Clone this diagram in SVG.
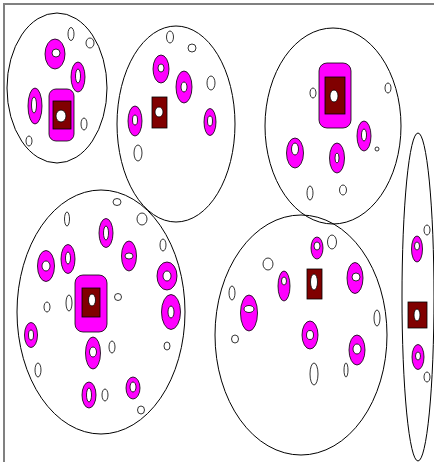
<svg xmlns="http://www.w3.org/2000/svg" width="434" height="462" viewBox="0 0 434 462">
<style>
.cell{fill:none;stroke:#000;stroke-width:1}
.ring{fill:#ff00ff;stroke:#000;stroke-width:0.8}
.hole{fill:#fff;stroke:#000;stroke-width:0.8}
.ov{fill:#fff;stroke:#000;stroke-width:0.8}
.pad{fill:#ff00ff;stroke:#000;stroke-width:0.8}
.core{fill:#800000;stroke:#000;stroke-width:0.8}
.frame{stroke:#808080;stroke-width:2;fill:none}
</style>
<rect width="434" height="462" fill="#fff"/>
<path class="frame" d="M4,462 V4 H434"/>

<g id="cell1">
<ellipse class="cell" cx="57" cy="88" rx="50" ry="75"/>
<ellipse class="ov" cx="71" cy="34" rx="3" ry="6.5"/>
<ellipse class="ov" cx="90" cy="43" rx="4" ry="5"/>
<ellipse class="ov" cx="84" cy="124" rx="3" ry="6"/>
<ellipse class="ov" cx="29" cy="141" rx="3" ry="5"/>
<ellipse class="ring" cx="55" cy="54" rx="10" ry="15"/><ellipse class="hole" cx="56" cy="53" rx="4" ry="4"/>
<ellipse class="ring" cx="78" cy="77" rx="7" ry="15"/><ellipse class="hole" cx="78" cy="76" rx="2.5" ry="7"/>
<ellipse class="ring" cx="35" cy="106" rx="7" ry="18"/><ellipse class="hole" cx="34" cy="105" rx="2.5" ry="8"/>
<rect class="pad" x="49" y="89" width="25" height="52" rx="7"/>
<rect class="core" x="53" y="101" width="18" height="28"/>
<ellipse class="hole" cx="61" cy="116" rx="5" ry="6"/>
</g>

<g id="cell2">
<ellipse class="cell" cx="176" cy="124" rx="59" ry="98"/>
<ellipse class="ov" cx="170" cy="37" rx="3.5" ry="6"/>
<ellipse class="ov" cx="192" cy="48" rx="4" ry="4"/>
<ellipse class="ov" cx="211" cy="83" rx="4" ry="7"/>
<ellipse class="ov" cx="138" cy="153" rx="4" ry="8"/>
<ellipse class="ring" cx="161" cy="69" rx="8" ry="14"/><ellipse class="hole" cx="161" cy="68" rx="3" ry="4"/>
<ellipse class="ring" cx="184" cy="87" rx="8" ry="16"/><ellipse class="hole" cx="184" cy="87" rx="3" ry="5"/>
<ellipse class="ring" cx="135" cy="121" rx="7" ry="15"/><ellipse class="hole" cx="135" cy="120" rx="2.5" ry="5"/>
<ellipse class="ring" cx="210" cy="122" rx="6" ry="13.5"/><ellipse class="hole" cx="210" cy="121" rx="2.5" ry="5"/>
<rect class="core" x="152" y="97" width="15" height="31"/>
<ellipse class="hole" cx="159" cy="112" rx="4" ry="5"/>
</g>

<g id="cell3">
<ellipse class="cell" cx="333" cy="126" rx="68" ry="98"/>
<ellipse class="ov" cx="313" cy="93" rx="3" ry="5"/>
<ellipse class="ov" cx="388" cy="88" rx="3" ry="5"/>
<ellipse class="ov" cx="377" cy="149" rx="2" ry="2"/>
<ellipse class="ov" cx="310" cy="193" rx="3" ry="7"/>
<ellipse class="ov" cx="343" cy="190" rx="3.5" ry="5"/>
<rect class="pad" x="319" y="63" width="32" height="65" rx="8"/>
<rect class="core" x="325" y="77" width="20" height="37"/>
<ellipse class="hole" cx="334" cy="96" rx="4" ry="6"/>
<ellipse class="ring" cx="364" cy="136" rx="7" ry="15"/><ellipse class="hole" cx="364" cy="135" rx="2.5" ry="6"/>
<ellipse class="ring" cx="295" cy="153" rx="8.5" ry="15"/><ellipse class="hole" cx="295" cy="149" rx="3.5" ry="6"/>
<ellipse class="ring" cx="337" cy="158" rx="7.5" ry="15"/><ellipse class="hole" cx="337" cy="158" rx="2" ry="5"/>
</g>

<g id="cell4">
<ellipse class="cell" cx="101" cy="312" rx="84" ry="122"/>
<ellipse class="ov" cx="117" cy="202" rx="4" ry="3.5"/>
<ellipse class="ov" cx="142" cy="219" rx="5" ry="6"/>
<ellipse class="ov" cx="67" cy="219" rx="2.5" ry="7"/>
<ellipse class="ov" cx="163" cy="245" rx="3" ry="6"/>
<ellipse class="ov" cx="118" cy="297" rx="3.5" ry="3.5"/>
<ellipse class="ov" cx="69" cy="303" rx="3" ry="8"/>
<ellipse class="ov" cx="47" cy="307" rx="3" ry="5"/>
<ellipse class="ov" cx="112" cy="347" rx="3" ry="6"/>
<ellipse class="ov" cx="167" cy="346" rx="3" ry="4"/>
<ellipse class="ov" cx="38" cy="370" rx="3" ry="7"/>
<ellipse class="ov" cx="105" cy="395" rx="3" ry="6"/>
<ellipse class="ov" cx="141" cy="410" rx="3.5" ry="4"/>
<ellipse class="ring" cx="106" cy="233" rx="7" ry="14.5"/><ellipse class="hole" cx="106" cy="233" rx="2.5" ry="7"/>
<ellipse class="ring" cx="129" cy="256" rx="7.5" ry="15"/><ellipse class="hole" cx="129" cy="256" rx="4" ry="3"/>
<ellipse class="ring" cx="46" cy="266" rx="8.5" ry="15.5"/><ellipse class="hole" cx="46" cy="266" rx="4" ry="5"/>
<ellipse class="ring" cx="68" cy="259" rx="7" ry="14.5"/><ellipse class="hole" cx="68" cy="258" rx="2.5" ry="6"/>
<ellipse class="ring" cx="167" cy="276" rx="10" ry="14"/><ellipse class="hole" cx="167" cy="276" rx="4" ry="5"/>
<ellipse class="ring" cx="171" cy="312" rx="9.5" ry="17.5"/><ellipse class="hole" cx="171" cy="312" rx="3" ry="6"/>
<ellipse class="ring" cx="31" cy="335" rx="6.5" ry="12.5"/><ellipse class="hole" cx="31" cy="335" rx="2.5" ry="5"/>
<ellipse class="ring" cx="93" cy="353" rx="7.5" ry="16"/><ellipse class="hole" cx="93" cy="352" rx="3.5" ry="5"/>
<ellipse class="ring" cx="89" cy="395" rx="7" ry="13"/><ellipse class="hole" cx="89" cy="395" rx="2.5" ry="7"/>
<ellipse class="ring" cx="133" cy="388" rx="7" ry="11"/><ellipse class="hole" cx="133" cy="387" rx="3" ry="5"/>
<rect class="pad" x="75" y="275" width="32" height="57" rx="8"/>
<rect class="core" x="82" y="288" width="18" height="29"/>
<ellipse class="hole" cx="92" cy="300" rx="3.5" ry="6"/>
</g>

<g id="cell5">
<ellipse class="cell" cx="301" cy="335" rx="86" ry="120"/>
<ellipse class="ov" cx="332" cy="242" rx="4.5" ry="7"/>
<ellipse class="ov" cx="268" cy="264" rx="5" ry="6"/>
<ellipse class="ov" cx="232" cy="293" rx="3" ry="7"/>
<ellipse class="ov" cx="235" cy="339" rx="3.5" ry="4"/>
<ellipse class="ov" cx="377" cy="318" rx="3" ry="8"/>
<ellipse class="ov" cx="314" cy="374" rx="4" ry="11"/>
<ellipse class="ov" cx="346" cy="370" rx="2" ry="7"/>
<ellipse class="ring" cx="317" cy="248" rx="6" ry="11"/><ellipse class="hole" cx="317" cy="246" rx="3" ry="4"/>
<ellipse class="ring" cx="284" cy="286" rx="6" ry="15"/><ellipse class="hole" cx="284" cy="281" rx="2.5" ry="4"/>
<ellipse class="ring" cx="355" cy="278" rx="8" ry="15.5"/><ellipse class="hole" cx="356" cy="277" rx="4" ry="4"/>
<ellipse class="ring" cx="249" cy="313" rx="8.5" ry="18"/><ellipse class="hole" cx="249" cy="309" rx="5" ry="3.5"/>
<ellipse class="ring" cx="310" cy="335" rx="8" ry="14"/><ellipse class="hole" cx="310" cy="335" rx="3.5" ry="4.5"/>
<ellipse class="ring" cx="357" cy="350" rx="8" ry="15"/><ellipse class="hole" cx="357" cy="349" rx="4" ry="5"/>
<rect class="core" x="307" y="269" width="15" height="30"/>
<ellipse class="hole" cx="314" cy="282" rx="3.5" ry="8"/>
</g>

<g id="cell6">
<ellipse class="cell" cx="418" cy="297" rx="16" ry="164"/>
<ellipse class="ov" cx="427" cy="230" rx="3" ry="5"/>
<ellipse class="ov" cx="427" cy="377" rx="3" ry="5"/>
<ellipse class="ring" cx="417" cy="249" rx="5.5" ry="13"/><ellipse class="hole" cx="417" cy="246" rx="2.5" ry="4"/>
<ellipse class="ring" cx="418" cy="357" rx="6" ry="12.5"/><ellipse class="hole" cx="418" cy="356" rx="2.5" ry="4"/>
<rect class="core" x="408" y="302" width="19" height="26"/>
<ellipse class="hole" cx="417" cy="315" rx="3" ry="6"/>
</g>
</svg>
